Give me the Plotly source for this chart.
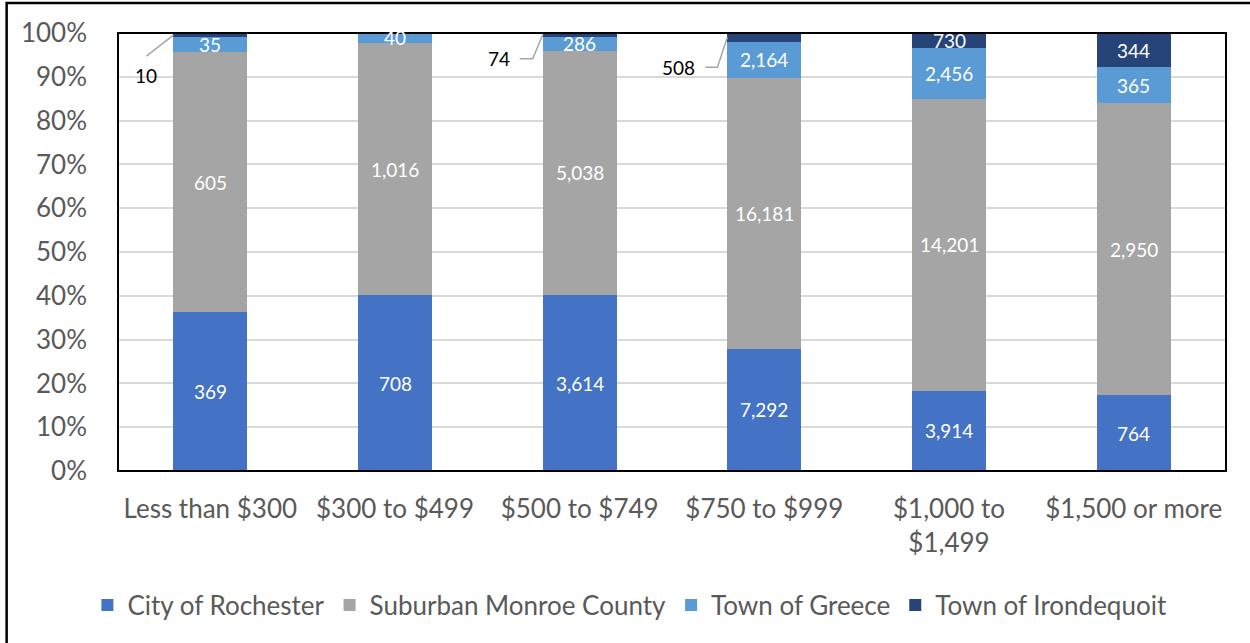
import plotly.graph_objects as go

# Gross rent categories and renter household counts by area
categories = ["Less than $300", "$300 to $499", "$500 to $749",
              "$750 to $999", "$1,000 to<br>$1,499", "$1,500 or more"]
rochester = [369, 708, 3614, 7292, 3914, 764]
suburban = [605, 1016, 5038, 16181, 14201, 2950]
greece = [35, 40, 286, 2164, 2456, 365]
irondequoit = [10, 0, 74, 508, 730, 344]
y_ticks = [0, 10, 20, 30, 40, 50, 60, 70, 80, 90, 100]

series = [
    ("City of Rochester", rochester, "#4472C4"),
    ("Suburban Monroe County", suburban, "#A5A5A5"),
    ("Town of Greece", greece, "#5B9BD5"),
    ("Town of Irondequoit", irondequoit, "#264478"),
]

FONT = "Lato"
GREY_TXT = "#595959"
AXIS_SIZE = 26
LABEL_SIZE = 19
xs = list(range(len(categories)))
totals = [sum(v) for v in zip(rochester, suburban, greece, irondequoit)]

# Irondequoit segments too thin for an inside label get an outside callout:
# (diagonal dx, horizontal run, label placement), diagonal drop in pixels
outside = {0: (-27, 0, "below"), 2: (-10, -13, "left"), 3: (-10, -12, "left")}
outside_dy = {0: 21, 2: 24, 3: 30}

fig = go.Figure()
for name, vals, color in series:
    fig.add_trace(go.Bar(
        x=xs, y=vals, name=name, marker_color=color, marker_line_width=0,
    ))

half_w = 0.2
shapes = []
annotations = []

# Segment value labels, centred in each stacked segment
cum = [0.0] * len(categories)
for name, vals, color in series:
    for i, v in enumerate(vals):
        pct = v / totals[i] * 100
        mid = cum[i] + pct / 2
        cum[i] += pct
        if v == 0 or (name == "Town of Irondequoit" and i in outside):
            continue
        annotations.append(dict(
            x=i, y=mid, xref="x", yref="y", text=f"{v:,}", showarrow=False,
            xanchor="center", yanchor="middle",
            font=dict(family=FONT, size=LABEL_SIZE, color="white"),
        ))

for i, (dx, hx, mode) in outside.items():
    base = (rochester[i] + suburban[i] + greece[i]) / totals[i] * 100
    mid = base + irondequoit[i] / totals[i] * 100 / 2
    dy = outside_dy[i]
    path = f"M 0 0 L {dx} {-dy}"
    if hx:
        path += f" L {dx + hx} {-dy}"
    shapes.append(dict(
        type="path", xref="x", yref="y", xsizemode="pixel", ysizemode="pixel",
        xanchor=i - half_w, yanchor=mid, path=path,
        line=dict(color="#A6A6A6", width=1.5), layer="above",
    ))
    label = f"{irondequoit[i]:,}"
    if mode == "below":
        annotations.append(dict(
            x=i - half_w, y=mid, xref="x", yref="y", text=label,
            showarrow=False, xshift=dx, yshift=-dy - 19,
            xanchor="center", yanchor="middle",
            font=dict(family=FONT, size=LABEL_SIZE, color="black"),
        ))
    else:
        annotations.append(dict(
            x=i - half_w, y=mid, xref="x", yref="y", text=label,
            showarrow=False, xshift=dx + hx - 8, yshift=-dy,
            xanchor="right", yanchor="middle",
            font=dict(family=FONT, size=LABEL_SIZE, color="black"),
        ))

# Plot-area frame and outer chart border
shapes.append(dict(type="rect", xref="paper", yref="paper", x0=0, x1=1, y0=0, y1=1,
                   line=dict(color="black", width=2), layer="above"))
shapes.append(dict(type="rect", xref="paper", yref="paper",
                   x0=-0.1005, x1=1.2, y0=-0.6, y1=1.0685,
                   line=dict(color="black", width=2.5), layer="above"))

fig.update_layout(
    width=1250, height=643,
    margin=dict(l=118, r=24, t=33, b=172),
    barmode="stack", barnorm="percent", bargap=0.6,
    plot_bgcolor="white", paper_bgcolor="white",
    font=dict(family=FONT, size=AXIS_SIZE, color=GREY_TXT),
    showlegend=True,
    legend=dict(orientation="h", x=0.462, xanchor="center", y=-0.306,
                yanchor="middle", font=dict(family=FONT, size=AXIS_SIZE, color=GREY_TXT),
                traceorder="normal", itemwidth=30),
    shapes=shapes, annotations=annotations,
)
fig.update_xaxes(
    range=[-0.5, len(categories) - 0.5], tickvals=xs, ticktext=categories,
    showgrid=False, zeroline=False, showline=False,
    ticks="", ticklabelstandoff=20,
    tickfont=dict(family=FONT, size=AXIS_SIZE, color=GREY_TXT),
)
fig.update_yaxes(
    range=[0, 100], tickvals=y_ticks, ticktext=[f"{v}%" for v in y_ticks],
    showgrid=True, gridcolor="#D9D9D9", gridwidth=1.5,
    zeroline=False, showline=False, ticks="", ticklabelstandoff=30,
    tickfont=dict(family=FONT, size=AXIS_SIZE, color=GREY_TXT),
)

fig.write_html("out.html")
